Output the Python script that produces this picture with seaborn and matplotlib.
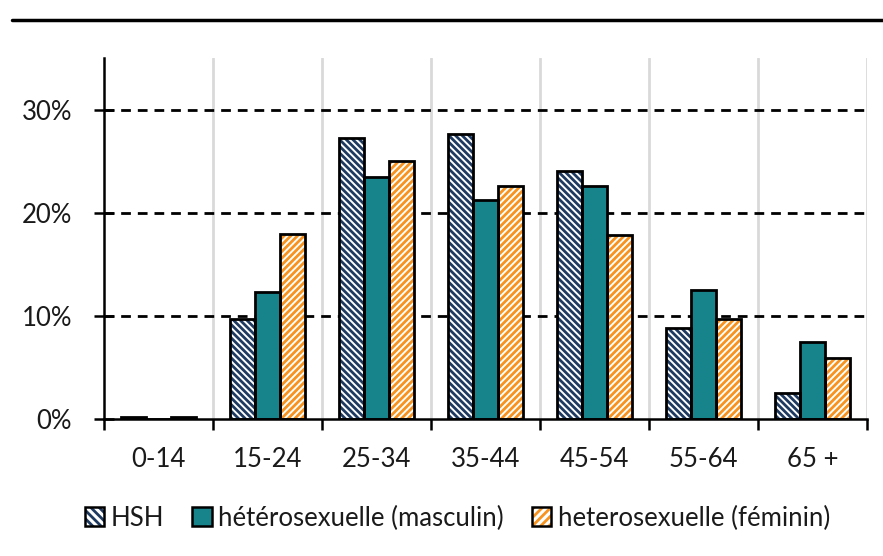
import matplotlib
matplotlib.use("Agg")
import matplotlib.pyplot as plt
from matplotlib.patches import Rectangle, Patch
from matplotlib.lines import Line2D
from matplotlib.legend_handler import HandlerTuple
import pandas as pd
import seaborn as sns

# Age groups and share of diagnoses (%) per transmission group
age_groups = ["0-14", "15-24", "25-34", "35-44", "45-54", "55-64", "65 +"]
hsh = [0.2, 9.7, 27.2, 27.6, 24.0, 8.8, 2.5]
hetero_m = [0.0, 12.3, 23.5, 21.2, 22.6, 12.5, 7.5]
hetero_f = [0.2, 17.9, 25.0, 22.6, 17.8, 9.7, 5.9]
series_names = ["HSH", "hétérosexuelle (masculin)", "heterosexuelle (féminin)"]
y_ticks = [0, 10, 20, 30]
y_tick_labels = ["0%", "10%", "20%", "30%"]

navy = "#1F3A60"
teal = "#17838A"
orange = "#F7931E"
text_col = "#1A1A1A"

df = pd.DataFrame({
    "age": age_groups * 3,
    "value": hsh + hetero_m + hetero_f,
    "group": [series_names[0]] * 7 + [series_names[1]] * 7 + [series_names[2]] * 7,
})

sns.set_theme(style="white")
plt.rcParams["font.family"] = ["Lato", "DejaVu Sans"]
plt.rcParams["hatch.linewidth"] = 2.0

fig = plt.figure(figsize=(8.83, 5.56), dpi=100)
ax = fig.add_axes([104 / 883, 137 / 556, (867 - 104) / 883, (419 - 58) / 556])

sns.barplot(data=df, x="age", y="value", hue="group", order=age_groups,
            hue_order=series_names, palette=[navy, teal, orange],
            width=0.68, gap=0, ax=ax, legend=False, zorder=3)

hatch_hsh = "\\" * 5
hatch_fem = "/" * 5
styles = {
    0: dict(face="white", hatch_col=navy, hatch=hatch_hsh),
    1: dict(face=teal, hatch_col=teal, hatch=None),
    2: dict(face="white", hatch_col=orange, hatch=hatch_fem),
}
bars = list(ax.patches)
for i, bar in enumerate(bars):
    s = styles[i // len(age_groups)]
    x, y = bar.get_x(), bar.get_y()
    w, h = bar.get_width(), bar.get_height()
    bar.set_facecolor(s["face"])
    bar.set_edgecolor(s["hatch_col"])
    bar.set_linewidth(0)
    if s["hatch"]:
        bar.set_hatch(s["hatch"])
    # black outline drawn on top of the hatched fill
    ax.add_patch(Rectangle((x, y), w, h, fill=False, edgecolor="black",
                           linewidth=2.0, zorder=4))

ax.set_xlim(-0.5, len(age_groups) - 0.5)
ax.set_ylim(0, 35)

# horizontal dashed gridlines
for v in y_ticks[1:]:
    ax.axhline(v, color="black", linewidth=2.0, linestyle=(0, (3.5, 2.5)), zorder=2)
# light vertical separators between age groups
for b in range(1, len(age_groups) + 1):
    ax.axvline(b - 0.5, color="#D9D9D9", linewidth=2.0, zorder=1)

ax.set_yticks(y_ticks)
ax.set_yticklabels(y_tick_labels, fontsize=18.5, color=text_col)
ax.set_xticks([b - 0.5 for b in range(len(age_groups) + 1)])
ax.set_xticklabels([])
ax.set_xticks(range(len(age_groups)), minor=True)
ax.set_xticklabels(age_groups, minor=True, fontsize=18.5, color=text_col)
ax.tick_params(axis="x", which="major", direction="out", length=8, width=1.8,
               color="black", bottom=True)
ax.tick_params(axis="x", which="minor", length=0, pad=20, bottom=True)
ax.tick_params(axis="y", direction="inout", length=14, width=1.8, color="black",
               left=True, pad=16)
ax.set_xlabel("")
ax.set_ylabel("")

for side in ["top", "right"]:
    ax.spines[side].set_visible(False)
for side in ["left", "bottom"]:
    ax.spines[side].set_color("black")
    ax.spines[side].set_linewidth(1.8)
    ax.spines[side].set_zorder(5)

outline = dict(fill=False, edgecolor="black", linewidth=1.8)
handles = [
    (Patch(facecolor="white", edgecolor=navy, hatch="\\" * 4, linewidth=0),
     Patch(**outline)),
    (Patch(facecolor=teal, linewidth=0), Patch(**outline)),
    (Patch(facecolor="white", edgecolor=orange, hatch="/" * 4, linewidth=0),
     Patch(**outline)),
]
leg = fig.legend(handles, series_names, loc="center", bbox_to_anchor=(0.518, 0.068),
                 ncol=3, frameon=False, fontsize=18.5, handlelength=0.75,
                 handleheight=0.75, handletextpad=0.25, columnspacing=1.1,
                 handler_map={tuple: HandlerTuple(ndivide=1, pad=0)})
for t in leg.get_texts():
    t.set_color(text_col)

# heavy rule across the top of the figure
fig.add_artist(Line2D([12 / 883, 1.0], [536 / 556, 536 / 556], color="black",
                      linewidth=2.5, transform=fig.transFigure))

fig.savefig("out.png", dpi=100)
